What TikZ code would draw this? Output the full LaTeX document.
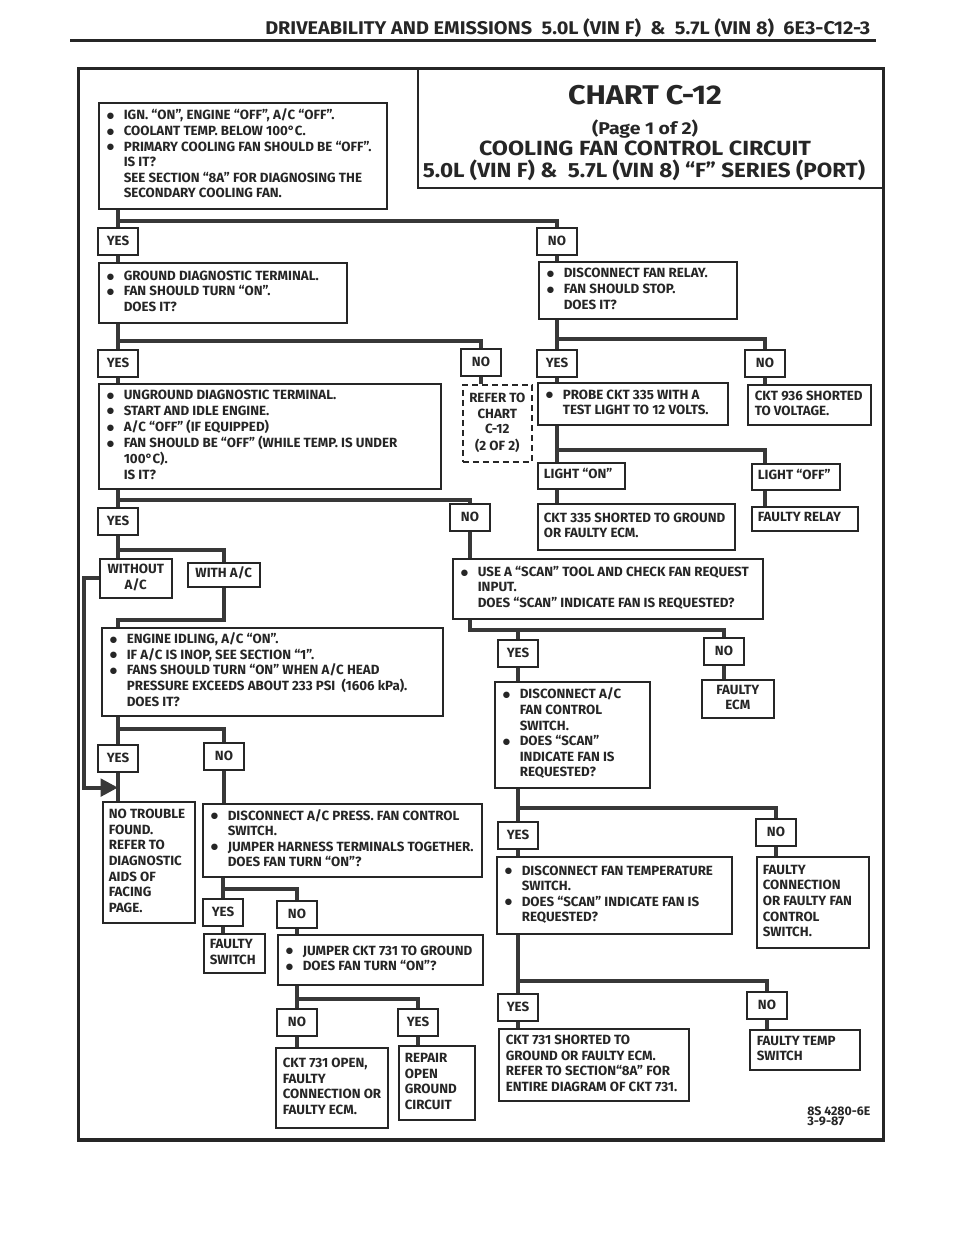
\documentclass[tikz,border=0pt]{standalone}
\usepackage{fontspec}
\usepackage{graphicx}
\setmainfont{Fira Sans}
\newfontfamily\hdrfont{Fira Sans}[FakeStretch=0.8]
\newfontfamily\ttlfont{Fira Sans}
\newfontfamily\bltfont{DejaVu Sans}
\usetikzlibrary{arrows.meta,calc}
\definecolor{ink}{HTML}{262626}
\definecolor{connc}{HTML}{383838}
\newdimen\px \px=0.75pt
\newcommand\bodysize{\fontsize{10pt}{11.7pt}\selectfont\bfseries}
\newcommand\bul{\makebox[17\px][l]{\raisebox{1.3\px}{\bltfont\fontsize{6.3pt}{6.3pt}\selectfont ●}}}
\newcommand\ind{\hspace*{17\px}}
\tikzset{
  box/.style={draw=ink, line width=1.2pt, fill=white, inner sep=0pt, anchor=north west, text=ink, font=\bodysize},
  refbox/.style={dash pattern=on 4.5pt off 3pt},
  lbl/.style={draw=ink, line width=1.2pt, fill=white, inner sep=0pt, anchor=north, text=ink, font=\bodysize, minimum width=30pt, minimum height=20.25pt},
  conn/.style={draw=connc, line width=3pt},
  ttl/.style={anchor=base, inner sep=0pt, text=ink}
}
\newcommand\bx[8][]{%
  \node[box,#1,minimum width={(#5-#3)*0.75pt},minimum height={(#6-#4)*0.75pt}] (#2) at (#3,#4)
  {\makebox[\dimexpr#5\px-#3\px\relax][l]{\hspace*{#7\px}\begin{tabular}{@{}l@{}}#8\end{tabular}}};}
\newcommand\cbx[7][]{%
  \node[box,#1,minimum width={(#5-#3)*0.75pt},minimum height={(#6-#4)*0.75pt}] (#2) at (#3,#4)
  {\begin{tabular}{@{}c@{}}#7\end{tabular}};}
\newcommand\lb[4]{\node[lbl] (#1) at (#2,#3) {#4};}
\begin{document}
\begin{tikzpicture}[x=0.75pt,y=-0.75pt]
\useasboundingbox (0,0) rectangle (960,1242);
% header
\node[anchor=base west, inner sep=0pt, text=ink] (hdr) at (265,34.5)
  {\resizebox{605\px}{\height}{\hdrfont\bfseries\fontsize{13.8pt}{14pt}\selectfont DRIVEABILITY AND EMISSIONS\ \ 5.0L (VIN F)\ \ \&\ \ 5.7L (VIN 8)\ \ 6E3-C12-3}};
\draw[ink, line width=1.9pt] (70,40.5) -- (876,40.5);
% frame and title box
\node[draw=ink, line width=2pt, anchor=north west, inner sep=0pt, minimum width={805*0.75pt}, minimum height={1071*0.75pt}] (frame) at (77,67) {};
\draw[ink, line width=2.6pt] (frame.south west) -- (frame.south east);
\node[draw=ink, line width=1.3pt, anchor=north west, inner sep=0pt, minimum width={465*0.75pt}, minimum height={120*0.75pt}] (tbox) at (417,67) {};
\node[ttl] (t1) at (645,104.3) {\resizebox{154\px}{\height}{\ttlfont\bfseries\fontsize{20.3pt}{22pt}\selectfont CHART C-12}};
\node[ttl] (t2) at (645,134) {\resizebox{106\px}{\height}{\ttlfont\bfseries\fontsize{12.8pt}{14pt}\selectfont (Page 1 of 2)}};
\node[ttl] (t3) at (645,155.7) {\resizebox{332\px}{\height}{\ttlfont\bfseries\fontsize{15.4pt}{17pt}\selectfont COOLING FAN CONTROL CIRCUIT}};
\node[ttl] (t4) at (644,177) {\resizebox{442\px}{\height}{\ttlfont\bfseries\fontsize{15.4pt}{17pt}\selectfont 5.0L (VIN F) \&\ \ 5.7L (VIN 8) “F” SERIES (PORT)}};
% boxes
\bx{A}{98}{102}{386}{208}{8}{\bul IGN. “ON”, ENGINE “OFF”, A/C “OFF”.\\\bul COOLANT TEMP. BELOW 100°C.\\\bul PRIMARY COOLING FAN SHOULD BE “OFF”.\\\ind IS IT?\\\ind SEE SECTION “8A” FOR DIAGNOSING THE\\\ind SECONDARY COOLING FAN.}
\bx{B}{98}{262}{346}{322}{8}{\bul GROUND DIAGNOSTIC TERMINAL.\\\bul FAN SHOULD TURN “ON”.\\\ind DOES IT?}
\bx{C}{538}{261}{736}{318}{8}{\bul DISCONNECT FAN RELAY.\\\bul FAN SHOULD STOP.\\\ind DOES IT?}
\bx{D}{98}{383}{440}{488}{8}{\bul UNGROUND DIAGNOSTIC TERMINAL.\\\bul START AND IDLE ENGINE.\\\bul A/C “OFF” (IF EQUIPPED)\\\bul FAN SHOULD BE “OFF” (WHILE TEMP. IS UNDER\\\ind 100°C).\\\ind IS IT?}
\cbx[refbox]{ref}{462}{384}{531}{461}{REFER TO\\CHART\\C-12\\(2 OF 2)}
\bx{E}{537}{382}{727}{424}{8}{\bul PROBE CKT 335 WITH A\\\ind TEST LIGHT TO 12 VOLTS.}
\bx{F}{747}{384}{870}{424}{7}{CKT 936 SHORTED\\TO VOLTAGE.}
\bx{lon}{537}{462}{624}{488}{6}{LIGHT “ON”}
\bx{loff}{751}{463}{839}{489}{6}{LIGHT “OFF”}
\bx{c335}{537}{503}{734}{549}{6}{CKT 335 SHORTED TO GROUND\\OR FAULTY ECM.}
\bx{frel}{751}{506}{857}{530}{6}{FAULTY RELAY}
\cbx{wout}{99}{558}{171}{597}{WITHOUT\\A/C}
\cbx{with}{187}{562}{259}{586}{WITH A/C}
\bx{G}{452}{558}{762}{618}{8}{\bul USE A “SCAN” TOOL AND CHECK FAN REQUEST\\\ind INPUT.\\\ind DOES “SCAN” INDICATE FAN IS REQUESTED?}
\bx{I}{101}{627}{442}{715}{8}{\bul ENGINE IDLING, A/C “ON”.\\\bul IF A/C IS INOP, SEE SECTION “1”.\\\bul FANS SHOULD TURN “ON” WHEN A/C HEAD\\\ind PRESSURE EXCEEDS ABOUT 233 PSI\ \ (1606 kPa).\\\ind DOES IT?}
\cbx{fecm}{701}{679}{773}{717}{FAULTY\\ECM}
\bx{H}{494}{681}{649}{787}{8}{\bul DISCONNECT A/C\\\ind FAN CONTROL\\\ind SWITCH.\\\bul DOES “SCAN”\\\ind INDICATE FAN IS\\\ind REQUESTED?}
\bx{ntf}{102}{801}{194}{922}{6}{NO TROUBLE\\FOUND.\\REFER TO\\DIAGNOSTIC\\AIDS OF\\FACING\\PAGE.}
\bx{J}{202}{803}{481}{876}{8}{\bul DISCONNECT A/C PRESS. FAN CONTROL\\\ind SWITCH.\\\bul JUMPER HARNESS TERMINALS TOGETHER.\\\ind DOES FAN TURN “ON”?}
\bx{L}{496}{856}{731}{933}{8}{\bul DISCONNECT FAN TEMPERATURE\\\ind SWITCH.\\\bul DOES “SCAN” INDICATE FAN IS\\\ind REQUESTED?}
\bx{fc}{756}{856}{868}{947}{6}{FAULTY\\CONNECTION\\OR FAULTY FAN\\CONTROL\\SWITCH.}
\bx{fsw}{203}{933}{264}{972}{6}{FAULTY\\SWITCH}
\bx{K}{277}{934}{482}{984}{8}{\bul JUMPER CKT 731 TO GROUND\\\bul DOES FAN TURN “ON”?}
\bx{s731}{498}{1028}{688}{1100}{7}{CKT 731 SHORTED TO\\GROUND OR FAULTY ECM.\\REFER TO SECTION“8A” FOR\\ENTIRE DIAGRAM OF CKT 731.}
\bx{fts}{749}{1029}{859}{1069}{7}{FAULTY TEMP\\SWITCH}
\bx{o731}{275}{1047}{387}{1127}{7}{CKT 731 OPEN,\\FAULTY\\CONNECTION OR\\FAULTY ECM.}
\bx{rep}{398}{1045}{474}{1119}{6}{REPAIR\\OPEN\\GROUND\\CIRCUIT}
% labels
\lb{y1}{118}{227}{YES} \lb{n1}{557}{227}{NO}
\lb{y2}{118}{349}{YES} \lb{n2}{481}{348}{NO}
\lb{y3}{557}{349}{YES} \lb{n3}{765}{349}{NO}
\lb{y4}{118}{507}{YES} \lb{n4}{470}{503}{NO}
\lb{y5}{518}{639}{YES} \lb{n5}{724}{637}{NO}
\lb{y6}{118}{744}{YES} \lb{n6}{224}{742}{NO}
\lb{y7}{518}{821}{YES} \lb{n7}{776}{818}{NO}
\lb{y8}{223}{898}{YES} \lb{n8}{297}{900}{NO}
\lb{n9}{297}{1008}{NO} \lb{y9}{418}{1008}{YES}
\lb{y10}{518}{993}{YES} \lb{n10}{767}{991}{NO}
% code
\node[anchor=north west, inner sep=0pt, align=left, text=ink, font=\hdrfont\bfseries\fontsize{9.3pt}{7.9pt}\selectfont] (code) at (807,1106)
  {\resizebox{63\px}{\height}{8S 4280-6E}\\\resizebox{37\px}{\height}{3-9-87}};
% connectors
\draw[conn] (A.south -| y1.north) -- (y1.north);
\draw[conn] ($(A.south -| y1.north)+(0,11)$) -| (n1.north);
\draw[conn] (y1.south) -- (y1.south |- B.north);
\draw[conn] (n1.south) -- (n1.south |- C.north);
\draw[conn] (B.south -| y2.north) -- (y2.north);
\draw[conn] ($(B.south -| y2.north)+(0,17)$) -| (n2.north);
\draw[conn] (y2.south) -- (y2.south |- D.north);
\draw[conn] (n2.south) -- (n2.south |- ref.north);
\draw[conn] (C.south -| y3.north) -- (y3.north);
\draw[conn] ($(C.south -| y3.north)+(0,19)$) -| (n3.north);
\draw[conn] (y3.south) -- (y3.south |- E.north);
\draw[conn] (n3.south) -- (n3.south |- F.north);
\draw[conn] (E.south -| y3.south) -- (lon.north -| y3.south);
\draw[conn] ($(E.south -| y3.south)+(0,24)$) -| (loff.north -| n3.south);
\draw[conn] (lon.south -| y3.south) -- (c335.north -| y3.south);
\draw[conn] (loff.south -| n3.south) -- (frel.north -| n3.south);
\draw[conn] (D.south -| y4.north) -- (y4.north);
\draw[conn] ($(D.south -| y4.north)+(0,10)$) -| (n4.north);
\draw[conn] (n4.south) -- (n4.south |- G.north);
\draw[conn] (y4.south) -- (y4.south |- wout.north);
\draw[conn] ($(y4.south)+(0,14)$) -| (with.north);
\draw[conn] (with.south) -- ++(0,32) -| (I.north -| y4.south);
\draw[conn] (G.south -| n4.south) |- ($(G.south -| n5.north)+(0,10)$) -- (n5.north);
\draw[conn] ($(G.south -| y5.north)+(0,10)$) -- (y5.north);
\draw[conn] (y5.south) -- (y5.south |- H.north);
\draw[conn] (n5.south) -- (n5.south |- fecm.north);
\draw[conn] (H.south -| y7.north) -- (y7.north);
\draw[conn] ($(H.south -| y7.north)+(0,19)$) -| (n7.north);
\draw[conn] (y7.south) -- (y7.south |- L.north);
\draw[conn] (n7.south) -- (n7.south |- fc.north);
\draw[conn] (L.south -| y10.north) -- (y10.north);
\draw[conn] ($(L.south -| y10.north)+(0,46)$) -| (n10.north);
\draw[conn] (y10.south) -- (y10.south |- s731.north);
\draw[conn] (n10.south) -- (n10.south |- fts.north);
\draw[conn] (I.south -| y6.north) -- (y6.north);
\draw[conn] ($(I.south -| y6.north)+(0,12)$) -| (n6.north);
\draw[conn] (y6.south) -- (y6.south |- ntf.north);
\draw[conn] (n6.south) -- (n6.south |- J.north);
\draw[conn] (J.south -| y8.north) -- (y8.north);
\draw[conn] ($(J.south -| y8.north)+(0,11)$) -| (n8.north);
\draw[conn] (y8.south) -- (y8.south |- fsw.north);
\draw[conn] (n8.south) -- (n8.south |- K.north);
\draw[conn] (K.south -| n9.north) -- (n9.north);
\draw[conn] ($(K.south -| n9.north)+(0,13)$) -| (y9.north);
\draw[conn] (n9.south) -- (n9.south |- o731.north);
\draw[conn] (y9.south) -- (y9.south |- rep.north);
\coordinate (arrtip) at ($(y6.south)+(0,15)$);
\draw[conn, -{Triangle[length=13pt,width=13pt]}] (wout.west) -- ++(-15,0) |- (arrtip);
\end{tikzpicture}
\end{document}
